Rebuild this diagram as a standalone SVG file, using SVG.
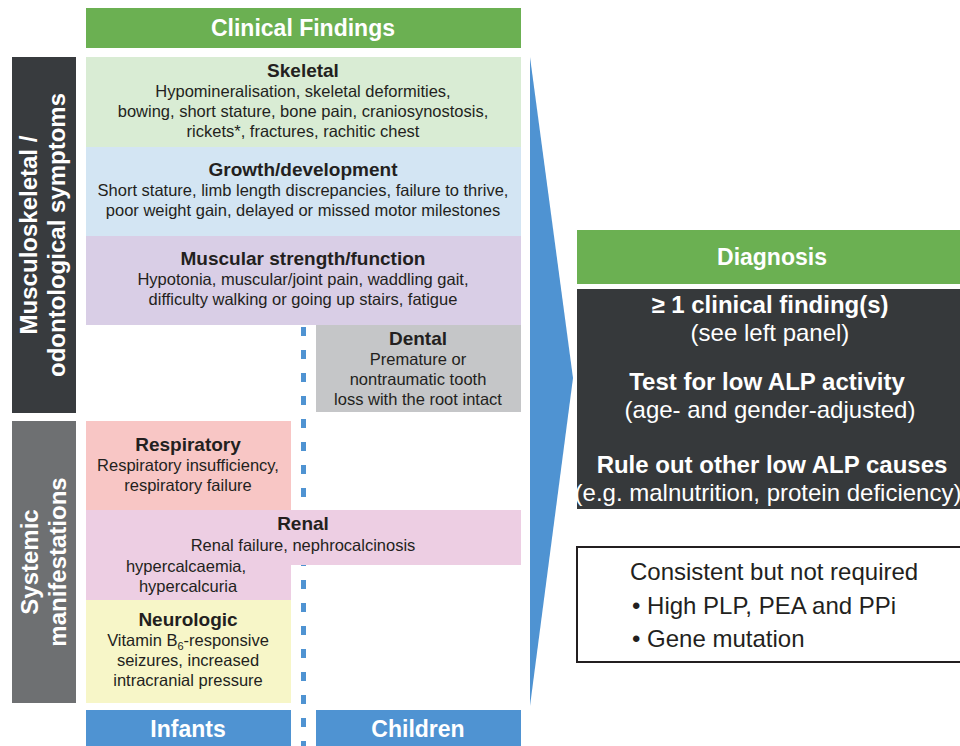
<svg xmlns="http://www.w3.org/2000/svg" width="960" height="746" viewBox="0 0 960 746">
  <style>
    text { font-family: "Liberation Sans", Arial, sans-serif; fill: #231f20; }
    .h { font-weight: bold; font-size: 19px; }
    .b { font-size: 16.5px; }
    .w { fill: #ffffff; font-weight: bold; }
    .c { text-anchor: middle; }
    .dw { fill: #ffffff; font-size: 24px; }
    .bar { fill: #ffffff; font-weight: bold; font-size: 24px; text-anchor: middle; }
  </style>

  <rect width="960" height="746" fill="#ffffff"/>

  <!-- connectors: infant/child divider (drawn first so boxes sit over it) and the arrow into diagnosis -->
  <g id="connectors">
    <line x1="303.5" y1="327" x2="303.5" y2="746" stroke="#4f93d2" stroke-width="5" stroke-dasharray="9 14"/>
    <polygon points="530,57 573,378 530,706" fill="#4f93d2"/>
  </g>

  <!-- column headers -->
  <g id="clinical-findings">
    <rect x="86" y="8" width="435" height="40" fill="#6bb052"/>
    <text class="w c" x="303" y="36" font-size="23">Clinical Findings</text>
  </g>

  <!-- side category bars -->
  <g id="musculoskeletal">
    <rect x="12" y="57" width="64" height="356" fill="#383b3e"/>
    <text class="bar" transform="translate(37 235) rotate(-90)">Musculoskeletal /</text>
    <text class="bar" transform="translate(65 235) rotate(-90)">odontological symptoms</text>
  </g>
  <g id="systemic">
    <rect x="12" y="421" width="64" height="282" fill="#6e7072"/>
    <text class="bar" transform="translate(38 562) rotate(-90)">Systemic</text>
    <text class="bar" transform="translate(66 562) rotate(-90)">manifestations</text>
  </g>

  <!-- finding boxes -->
  <g id="skeletal">
    <rect x="86" y="57" width="435" height="90" fill="#d9ecd4"/>
    <text class="h c" x="303" y="77">Skeletal</text>
    <text class="b c" x="303" y="97">Hypomineralisation, skeletal deformities,</text>
    <text class="b c" x="303" y="117">bowing, short stature, bone pain, craniosynostosis,</text>
    <text class="b c" x="303" y="137">rickets*, fractures, rachitic chest</text>
  </g>
  <g id="growth">
    <rect x="86" y="147" width="435" height="89" fill="#d3e5f3"/>
    <text class="h c" x="303" y="176">Growth/development</text>
    <text class="b c" x="303" y="196">Short stature, limb length discrepancies, failure to thrive,</text>
    <text class="b c" x="303" y="216">poor weight gain, delayed or missed motor milestones</text>
  </g>
  <g id="muscular">
    <rect x="86" y="236" width="435" height="89" fill="#d9cee6"/>
    <text class="h c" x="303" y="265">Muscular strength/function</text>
    <text class="b c" x="303" y="285">Hypotonia, muscular/joint pain, waddling gait,</text>
    <text class="b c" x="303" y="305">difficulty walking or going up stairs, fatigue</text>
  </g>
  <g id="dental">
    <rect x="316" y="325" width="205" height="87" fill="#c5c6c8"/>
    <text class="h c" x="418" y="345">Dental</text>
    <text class="b c" x="418" y="365">Premature or</text>
    <text class="b c" x="418" y="385">nontraumatic tooth</text>
    <text class="b c" x="418" y="405">loss with the root intact</text>
  </g>
  <g id="respiratory">
    <rect x="86" y="421" width="205" height="89" fill="#f8c6c5"/>
    <text class="h c" x="188" y="451">Respiratory</text>
    <text class="b c" x="188" y="471">Respiratory insufficiency,</text>
    <text class="b c" x="188" y="491">respiratory failure</text>
  </g>
  <g id="renal">
    <path d="M86 510 H521 V565 H291 V600 H86 Z" fill="#edcee3"/>
    <text class="h c" x="303" y="530">Renal</text>
    <text class="b c" x="303" y="551">Renal failure, nephrocalcinosis</text>
    <text class="b c" x="186" y="572">hypercalcaemia,</text>
    <text class="b c" x="188" y="592">hypercalcuria</text>
  </g>
  <g id="neurologic">
    <rect x="86" y="600" width="205" height="103" fill="#f7f6c8"/>
    <text class="h c" x="188" y="626">Neurologic</text>
    <text class="b c" x="188" y="646">Vitamin B<tspan font-size="11" dy="4">6</tspan><tspan dy="-4">-responsive</tspan></text>
    <text class="b c" x="188" y="666">seizures, increased</text>
    <text class="b c" x="188" y="686">intracranial pressure</text>
  </g>

  <!-- age bands -->
  <g id="infants">
    <rect x="86" y="710" width="205" height="36" fill="#4f93d2"/>
    <text class="w c" x="188" y="737" font-size="23">Infants</text>
  </g>
  <g id="children">
    <rect x="316" y="710" width="205" height="36" fill="#4f93d2"/>
    <text class="w c" x="418" y="737" font-size="23">Children</text>
  </g>

  <!-- diagnosis panel -->
  <g id="diagnosis">
    <rect x="577" y="230" width="390" height="54" fill="#6bb052"/>
    <text class="w c" x="772" y="265" font-size="23">Diagnosis</text>
    <rect x="577" y="289" width="390" height="220" fill="#36393b"/>
    <text class="dw c" x="770" y="313" font-weight="bold">≥ 1 clinical finding(s)</text>
    <text class="dw c" x="770" y="341">(see left panel)</text>
    <text class="dw c" x="767" y="390" font-weight="bold">Test for low ALP activity</text>
    <text class="dw c" x="770" y="418">(age- and gender-adjusted)</text>
    <text class="dw c" x="772" y="473" font-weight="bold">Rule out other low ALP causes</text>
    <text class="dw c" x="768" y="501" font-size="23.4">(e.g. malnutrition, protein deficiency)</text>
  </g>
  <g id="supporting">
    <rect x="577" y="547" width="400" height="115" fill="#ffffff" stroke="#231f20" stroke-width="2"/>
    <text x="630" y="580" font-size="24">Consistent but not required</text>
    <text x="632" y="614" font-size="24">• High PLP, PEA and PPi</text>
    <text x="632" y="647" font-size="24">• Gene mutation</text>
  </g>
</svg>
